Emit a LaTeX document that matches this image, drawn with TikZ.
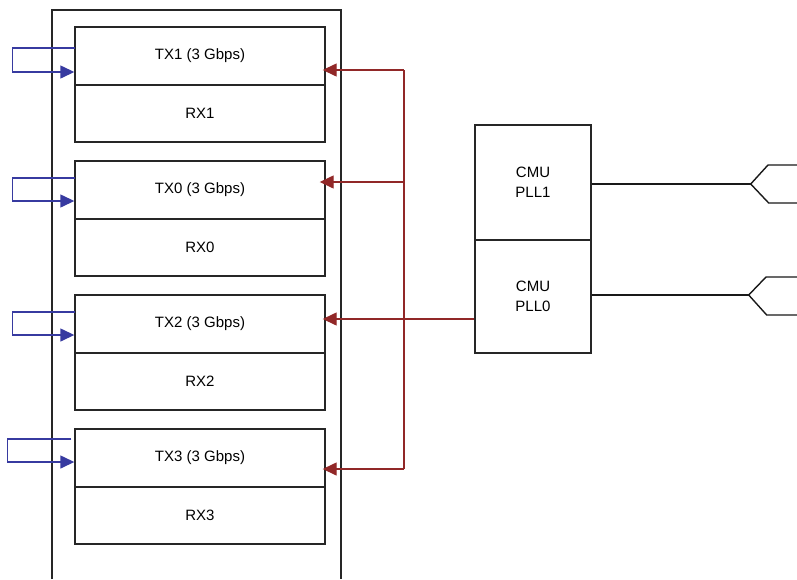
\documentclass[tikz,border=0pt]{standalone}
\usepackage{fontspec}
\setmainfont{Liberation Sans}
\usetikzlibrary{arrows.meta}
\definecolor{loopblue}{RGB}{55,58,160}
\definecolor{busred}{RGB}{145,40,40}
\begin{document}
\begin{tikzpicture}[x=1pt,y=-1pt,
  lbl/.style={font=\fontsize{15}{20}\selectfont},
  lane/.style={draw=black!85, line width=1.4pt, minimum width=250pt, inner sep=0pt, lbl},
  txbox/.style={lane, minimum height=58pt},
  rxbox/.style={lane, minimum height=57pt},
  pllbox/.style={draw=black!85, line width=1.4pt, minimum width=116pt, inner sep=0pt, lbl, align=center},
  frame/.style={draw=black!85, line width=1.4pt},
  wire/.style={draw=black!90, line width=1.4pt},
  loopline/.style={draw=loopblue, line width=1.4pt, -{Triangle[length=14pt,width=13pt]}},
  busline/.style={draw=busred, line width=1.4pt},
  busarrow/.style={busline, -{Triangle[length=14pt,width=13pt]}}
]
\useasboundingbox (0,0) rectangle (797,579);
% outer frame (open at bottom)
\draw[frame] (52,579) -- (52,10) -- (341,10) -- (341,579);
% lanes
\node[txbox] (tx1) at (200,56) {TX1 (3 Gbps)};
\node[rxbox] (rx1) at (200,113.5) {RX1};
\node[txbox] (tx0) at (200,190) {TX0 (3 Gbps)};
\node[rxbox] (rx0) at (200,247.5) {RX0};
\node[txbox] (tx2) at (200,324) {TX2 (3 Gbps)};
\node[rxbox] (rx2) at (200,381.5) {RX2};
\node[txbox] (tx3) at (200,458) {TX3 (3 Gbps)};
\node[rxbox] (rx3) at (200,515.5) {RX3};
% CMU PLLs
\node[pllbox, minimum height=115pt] (pll1) at (533,182.5) {CMU\\PLL1};
\node[pllbox, minimum height=113pt] (pll0) at (533,296.5) {CMU\\PLL0};
% blue loopbacks
\draw[loopline] ([xshift=1pt,yshift=8pt]tx1.west) -| ++(-63,0) |- ([yshift=-16pt]tx1.west);
\draw[loopline] ([xshift=1pt,yshift=12pt]tx0.west) -| ++(-63,0) |- ([yshift=-11pt]tx0.west);
\draw[loopline] ([xshift=1pt,yshift=12pt]tx2.west) -| ++(-63,0) |- ([yshift=-11pt]tx2.west);
\draw[loopline] ([xshift=-3pt,yshift=19pt]tx3.west) -| ++(-64,0) |- ([yshift=-4pt]tx3.west);
% red clock bus
\coordinate (bt) at (404,70);
\coordinate (bm) at (404,182);
\coordinate (bp) at (404,319);
\coordinate (bb) at (404,469);
\draw[busline] (bt) -- (bb);
\draw[busarrow, shorten >=-3pt] (bt) -- (bt -| tx1.east);
\draw[busarrow, shorten >=-6pt] (bm) -- (bm -| tx0.east);
\draw[busarrow, shorten >=-3pt] ([yshift=-22.5pt]pll0.west) -- (bp -| tx2.east);
\draw[busarrow, shorten >=-3pt] (bb) -- (bb -| tx3.east);
% reference clock inputs
\draw[wire] ([yshift=-1.5pt]pll1.east) -- ++(159,0) coordinate (f1);
\coordinate (f1a) at (797,165);
\coordinate (f1b) at (797,203);
\draw[wire] (f1a) -- ++(-29,0) -- (f1) -- ++(18,19) -- (f1b);
\draw[wire] ([yshift=1.5pt]pll0.east) -- ++(157,0) coordinate (f0);
\coordinate (f0a) at (797,277);
\coordinate (f0b) at (797,315);
\draw[wire] (f0a) -- ++(-31,0) -- (f0) -- ++(18,20) -- (f0b);
\end{tikzpicture}
\end{document}
